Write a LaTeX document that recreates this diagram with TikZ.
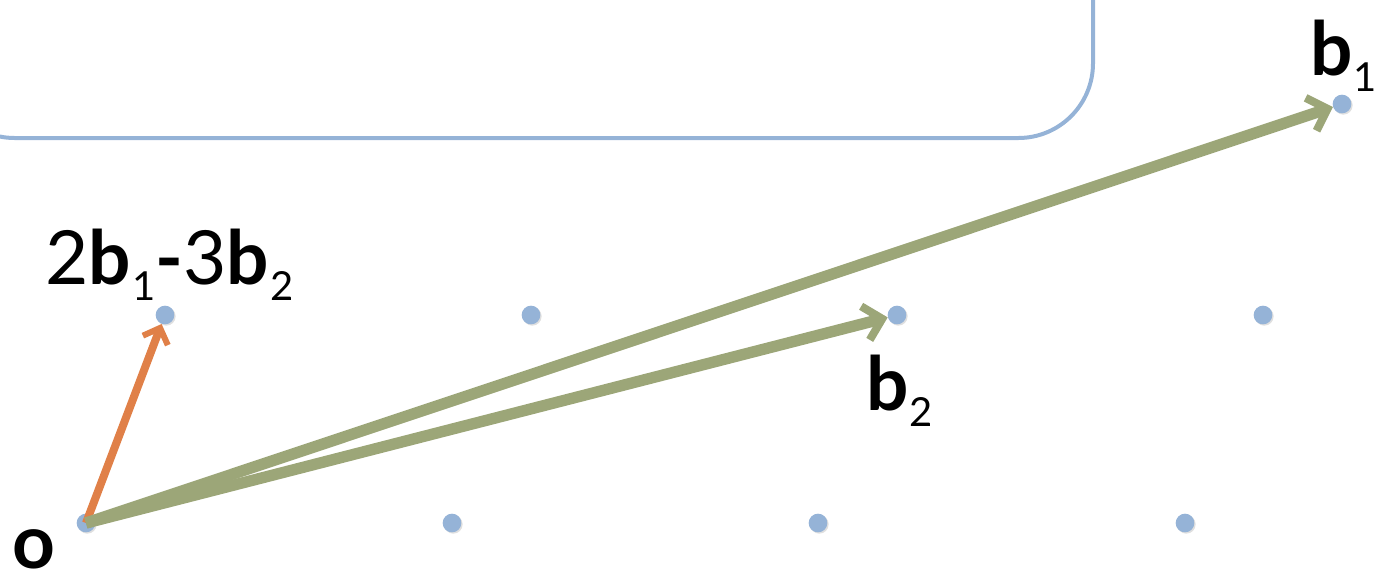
\documentclass[tikz,border=0pt]{standalone}
\usepackage{fontspec}
\setmainfont{Lato}
\usetikzlibrary{arrows.meta,shadows}

\definecolor{latblue}{RGB}{149,179,215}
\definecolor{vecgreen}{RGB}{156,166,120}
\definecolor{vecorange}{RGB}{224,128,72}

\newcommand{\bvec}[1]{\textbf{b}\kern1pt\raisebox{-12pt}{\fontsize{30}{32}\selectfont #1}}

\tikzset{
  latpt/.style={circle,fill=latblue,inner sep=0pt,minimum size=14pt,
    drop shadow={opacity=0.25,shadow xshift=1pt,shadow yshift=-1pt}},
  basisvec/.style={draw=vecgreen,line width=8.5pt,
    -{Straight Barb[length=13pt,width=26pt,line width=6pt]}},
  combvec/.style={draw=vecorange,line width=6pt,
    -{Straight Barb[length=10pt,width=20pt,line width=4.5pt]}},
  lab/.style={anchor=base west,inner sep=0pt,font=\fontsize{56}{60}\selectfont}
}

\begin{document}
\begin{tikzpicture}[x=0.75pt,y=0.75pt,yscale=-1,xscale=1]
\useasboundingbox (0,0) rectangle (1378,583);
\clip (0,0) rectangle (1378,583);

%Shape: Rounded Rect
\draw [draw=latblue,line width=3pt,rounded corners=56pt] (-60,-200) rectangle (1093,138);

%Lattice points
\node [latpt] (o) at (86,523) {};
\node [latpt] (r1) at (452,523) {};
\node [latpt] (r2) at (818,523) {};
\node [latpt] (r3) at (1185,523) {};
\node [latpt] (c) at (165,315) {};
\node [latpt] (t1) at (531,315) {};
\node [latpt] (b2) at (897,315) {};
\node [latpt] (t3) at (1263,315) {};
\node [latpt] (b1) at (1342,104) {};

%Straight Lines
\draw [combvec] (o.center) -- (c);
\draw [basisvec] (o.center) -- (b2);
\draw [basisvec] (o.center) -- (b1);

% Text Node
\node [lab] (lo) at (12,568) {\textbf{o}};
% Text Node
\node [lab] (lb1) at (1310,75) {\bvec{1}};
% Text Node
\node [lab] (lb2) at (866,410) {\bvec{2}};
% Text Node
\node [lab] (lc) at (45,284) {2\bvec{1}\textbf{-}3\bvec{2}};

\end{tikzpicture}
\end{document}
